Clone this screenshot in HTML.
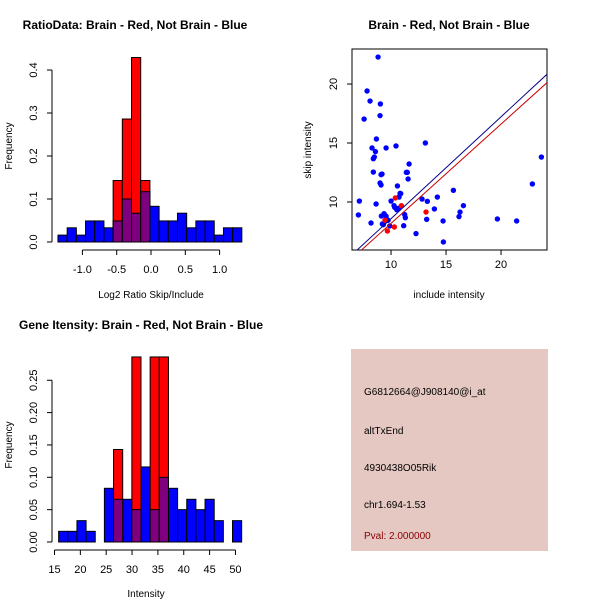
<!DOCTYPE html>
<html><head><meta charset="utf-8"><style>
html,body{margin:0;padding:0;background:#fff;}
svg{display:block;font-family:"Liberation Sans",sans-serif;}
</style></head><body>
<svg id="c" width="600" height="600" viewBox="0 0 600 600">
<rect x="0" y="0" width="600" height="600" fill="#fff"/>
<text x="135" y="29" font-size="12" font-weight="bold" text-anchor="middle">RatioData: Brain - Red, Not Brain - Blue</text>
<text x="449" y="29" font-size="12" font-weight="bold" text-anchor="middle">Brain - Red, Not Brain - Blue</text>
<text x="141" y="329" font-size="12" font-weight="bold" text-anchor="middle">Gene Itensity: Brain - Red, Not Brain - Blue</text>
<text x="151" y="298" font-size="10" text-anchor="middle">Log2 Ratio Skip/Include</text>
<text x="12" y="146" font-size="10" text-anchor="middle" transform="rotate(-90 12 146)">Frequency</text>
<text x="449" y="298" font-size="10" text-anchor="middle">include intensity</text>
<text x="311" y="150" font-size="10" text-anchor="middle" transform="rotate(-90 311 150)">skip intensity</text>
<text x="146" y="597" font-size="10" text-anchor="middle">Intensity</text>
<text x="12" y="445" font-size="10" text-anchor="middle" transform="rotate(-90 12 445)">Frequency</text>
<g>
<rect x="351" y="349" width="197" height="202" fill="#E5C8C2"/>
<text x="364" y="395" font-size="10">G6812664@J908140@i_at</text>
<text x="364" y="434" font-size="10">altTxEnd</text>
<text x="364" y="471" font-size="10">4930438O05Rik</text>
<text x="364" y="508" font-size="10">chr1.694-1.53</text>
<text x="364" y="539" font-size="10" fill="#8B0000">Pval: 2.000000</text>
</g>
</svg>
<script>
// Ratio histogram data
const ratioBinStart = -1.356;
const ratioBinWidth = 0.134;
const ratioBlue = [0.016,0.033,0.016,0.049,0.049,0.033,0.049,0.1,0.067,0.117,0.083,0.049,0.049,0.067,0.033,0.049,0.049,0.016,0.033,0.033];
const ratioRed = [0,0,0,0,0,0,0.143,0.286,0.429,0.143,0,0,0,0,0,0,0,0,0,0];
const ratioXTicks = [-1.0,-0.5,0.0,0.5,1.0];
const ratioXTickLabels = ["-1.0","-0.5","0.0","0.5","1.0"];
const ratioYTicks = [0,0.1,0.2,0.3,0.4];
const ratioYTickLabels = ["0.0","0.1","0.2","0.3","0.4"];
// Intensity histogram data
const intBinStart = 15.8;
const intBinWidth = 1.77;
const intBlue = [0.0165,0.0165,0.033,0.0165,0,0.083,0.066,0.066,0.05,0.116,0.05,0.1,0.083,0.05,0.066,0.05,0.066,0.033,0,0.033];
const intRed = [0,0,0,0,0,0,0.143,0,0.286,0,0.286,0.286,0,0,0,0,0,0,0,0];
const intXTicks = [15,20,25,30,35,40,45,50];
const intYTicks = [0,0.05,0.10,0.15,0.20,0.25];
const intYTickLabels = ["0.00","0.05","0.10","0.15","0.20","0.25"];
// Scatter data
const blueX = [7.03,7.12,7.55,7.82,8.09,8.18,8.27,8.39,8.39,8.48,8.58,8.67,8.64,8.82,9.0,9.0,9.03,9.09,9.09,9.18,9.12,9.21,9.30,9.36,9.45,9.55,9.55,9.64,9.73,9.88,10,10.27,10.33,10.45,10.52,10.58,10.67,10.73,10.82,10.88,11.15,11.24,11.30,11.39,11.48,11.55,11.64,12.27,12.82,13.12,13.24,13.30,13.94,14.21,14.73,14.76,15.67,16.18,16.27,16.58,19.67,21.42,22.85,23.67];
const blueY = [8.90,10.08,17.03,19.41,18.56,8.22,14.58,13.67,12.54,13.81,14.27,15.34,9.83,22.29,11.61,17.32,18.31,11.44,12.32,12.37,8.81,8.14,8.08,9.01,8.87,14.58,8.79,8.50,8.45,7.97,10.08,9.69,9.55,14.75,9.35,11.36,9.46,10.42,10.73,10.71,7.99,8.93,8.67,12.51,12.51,11.95,13.22,7.32,10.25,15.0,8.53,10.06,9.41,10.42,8.39,6.61,10.99,8.76,9.15,9.69,8.56,8.39,11.53,13.81];
const redX = [9.45,9.67,10.30,10.39,10.94,13.18];
const redY = [8.45,7.54,7.88,10.34,9.69,9.15];
const blueLine = [0.863,-0.04];
const redLine = [0.841,-0.22];
const scXTicks = [10,15,20];
const scYTicks = [10,15,20];

const NS = "http://www.w3.org/2000/svg";
const svg = document.getElementById('c');
function mk(tag, attrs, parent){const e=document.createElementNS(NS,tag);for(const k in attrs)e.setAttribute(k,attrs[k]);(parent||svg).appendChild(e);return e;}

function hist(opts){
  const {x0,px0,pxPerUnit,y0,pyPerUnit,start,width,blue,red,xticks,xlabels,yticks,ylabels,tickY,prefix} = opts;
  const sx=v=>px0+(v-x0)*pxPerUnit, sy=v=>y0-v*pyPerUnit;
  const g=mk('g',{});
  
  
  blue.forEach((v,i)=>{ if(v<=0) return;
    const r=mk('rect',{x:sx(start+i*width),y:sy(v),width:width*pxPerUnit,height:v*pyPerUnit,fill:'#0000FF',stroke:'#000','stroke-width':1},g);
    
    
  });
  red.forEach((v,i)=>{ if(v<=0) return;
    const r=mk('rect',{x:sx(start+i*width),y:sy(v),width:width*pxPerUnit,height:v*pyPerUnit,fill:'#FF0000',stroke:'#000','stroke-width':1},g);
    
    
    const m=Math.min(v,blue[i]);
    if(m>0){
      const p=mk('rect',{x:sx(start+i*width),y:sy(m),width:width*pxPerUnit,height:m*pyPerUnit,fill:'#7F007F',stroke:'#000','stroke-width':1},g);
      
      
    }
  });
  const ax=52;
  mk('line',{x1:ax,x2:ax,y1:sy(yticks[0]),y2:sy(yticks[yticks.length-1]),stroke:'#000'},g);
  yticks.forEach((t,i)=>{
    mk('line',{x1:ax-5,x2:ax,y1:sy(t),y2:sy(t),stroke:'#000'},g);
    const tx=mk('text',{x:ax-15,y:sy(t),'font-size':11,'text-anchor':'middle',transform:`rotate(-90 ${ax-15} ${sy(t)})`},g);
    tx.textContent=ylabels[i];
    
    
  });
  mk('line',{x1:sx(xticks[0]),x2:sx(xticks[xticks.length-1]),y1:tickY,y2:tickY,stroke:'#000'},g);
  xticks.forEach((t,i)=>{
    mk('line',{x1:sx(t),x2:sx(t),y1:tickY,y2:tickY+5,stroke:'#000'},g);
    const tx=mk('text',{x:sx(t),y:tickY+23,'font-size':11,'text-anchor':'middle'},g);
    tx.textContent=xlabels[i];
    
    
  });
}
hist({x0:0,px0:151,pxPerUnit:68.6,y0:242,pyPerUnit:430,start:ratioBinStart,width:ratioBinWidth,blue:ratioBlue,red:ratioRed,xticks:ratioXTicks,xlabels:ratioXTickLabels,yticks:ratioYTicks,ylabels:ratioYTickLabels,tickY:250,prefix:'ratio'});
hist({x0:15,px0:54.5,pxPerUnit:5.17,y0:542,pyPerUnit:647,start:intBinStart,width:intBinWidth,blue:intBlue,red:intRed,xticks:intXTicks,xlabels:intXTicks.map(String),yticks:intYTicks,ylabels:intYTickLabels,tickY:550,prefix:'intensity'});

(function(){
  const L=352,R=547,T=49,B=250;
  const xmin=6.45,xmax=24.18,ymin=5.93,ymax=22.97;
  const sx=v=>L+(v-xmin)/(xmax-xmin)*(R-L), sy=v=>B-(v-ymin)/(ymax-ymin)*(B-T);
  const g=mk('g',{});
  
  
  const defs=mk('defs',{},g);
  const cp=mk('clipPath',{id:'scclip'},defs);
  mk('rect',{x:L,y:T,width:R-L,height:B-T},cp);
  const fr=mk('rect',{x:L,y:T,width:R-L,height:B-T,fill:'none',stroke:'#000'},g);
  
  
  blueX.forEach((x,i)=>{
    const c=mk('circle',{cx:sx(x),cy:sy(blueY[i]),r:2.7,fill:'#0000FF'},g);
    
    
  });
  redX.forEach((x,i)=>{
    const c=mk('circle',{cx:sx(x),cy:sy(redY[i]),r:2.7,fill:'#FF0000'},g);
    
    
  });
  [[blueLine,'#00008B','blue-fit-line'],[redLine,'#CC0000','red-fit-line']].forEach(([ln,col,nm])=>{
    const l=mk('line',{x1:sx(xmin),y1:sy(ln[0]*xmin+ln[1]),x2:sx(xmax),y2:sy(ln[0]*xmax+ln[1]),stroke:col,'stroke-width':1,'clip-path':'url(#scclip)'},g);
    
    
  });
  scXTicks.forEach(t=>{
    mk('line',{x1:sx(t),x2:sx(t),y1:B,y2:B+5,stroke:'#000'},g);
    const tx=mk('text',{x:sx(t),y:B+18,'font-size':11,'text-anchor':'middle'},g);
    tx.textContent=String(t);
    
    
  });
  scYTicks.forEach(t=>{
    mk('line',{x1:L-5,x2:L,y1:sy(t),y2:sy(t),stroke:'#000'},g);
    const tx=mk('text',{x:L-15,y:sy(t),'font-size':11,'text-anchor':'middle',transform:`rotate(-90 ${L-15} ${sy(t)})`},g);
    tx.textContent=String(t);
    
    
  });
})();
</script>
</body></html>
